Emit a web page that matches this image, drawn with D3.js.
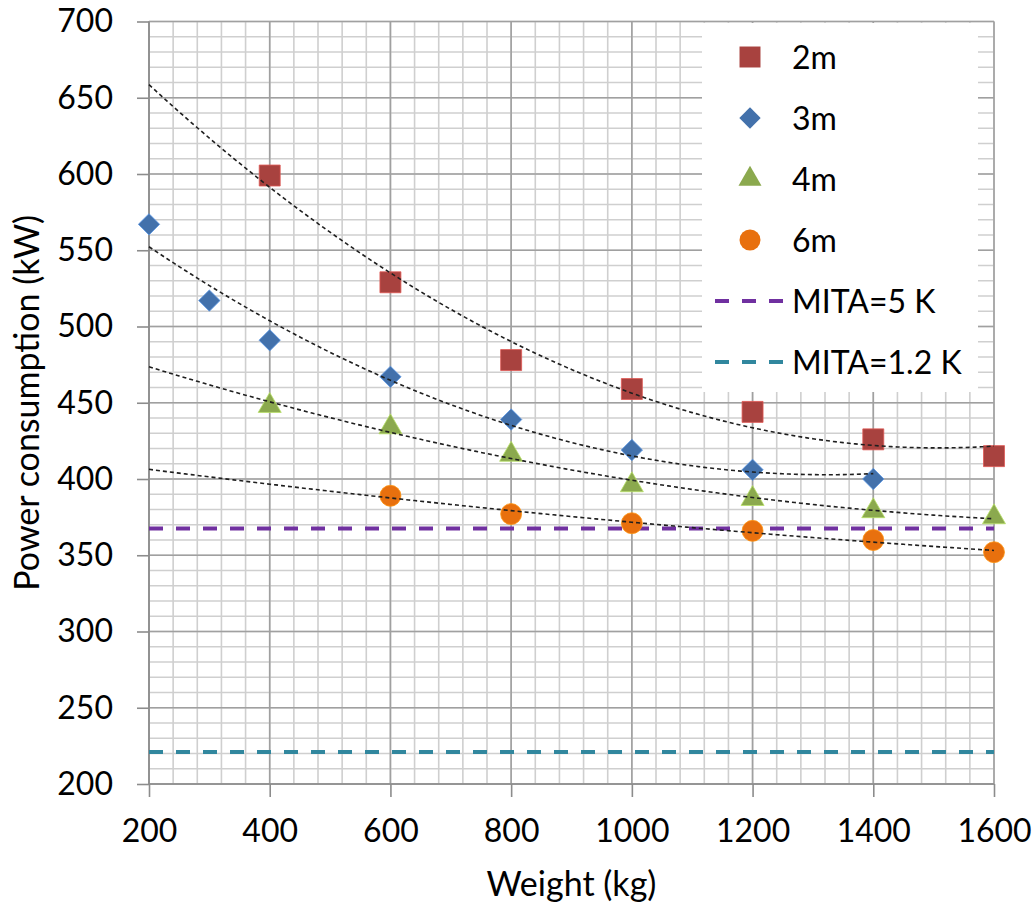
<!DOCTYPE html>
<html>
<head>
<meta charset="utf-8">
<script src="https://cdn.jsdelivr.net/npm/d3@7"></script>
<style>
  html, body { margin: 0; padding: 0; background: #fff; }
  text { font-family: Lato, "Open Sans", sans-serif; fill: #000; }
</style>
</head>
<body>
<svg id="chart" width="1034" height="906"></svg>
<script>
// ---------- data ----------
const xTicks = [200, 400, 600, 800, 1000, 1200, 1400, 1600];
const yTicks = [200, 250, 300, 350, 400, 450, 500, 550, 600, 650, 700];

const x2m = [400, 600, 800, 1000, 1200, 1400, 1600];
const y2m = [599, 529, 478, 459, 444, 426, 415];

const x3m = [200, 300, 400, 600, 800, 1000, 1200, 1400];
const y3m = [567, 517, 491, 467, 439, 419, 406, 400];

const x4m = [400, 600, 800, 1000, 1200, 1400, 1600];
const y4m = [448, 434, 416, 396, 387, 379, 375];

const x6m = [600, 800, 1000, 1200, 1400, 1600];
const y6m = [389, 377, 371, 366, 360, 352];

const mita5 = 367.5;   // MITA=5 K
const mita12 = 221;    // MITA=1.2 K

const seriesNames = ["2m", "3m", "4m", "6m"];
const lineNames = ["MITA=5 K", "MITA=1.2 K"];

// ---------- layout ----------
const svg = d3.select("#chart");
const W = 1034, H = 906;
svg.append("rect").attr("width", W).attr("height", H).attr("fill", "#fff");

const x = d3.scaleLinear().domain([200, 1600]).range([149, 994]);
const y = d3.scaleLinear().domain([200, 700]).range([784, 21.5]);

const colors = { "2m": "#A8423F", "3m": "#4371AB", "4m": "#8BA94E", "6m": "#E8700E" };
const lineColors = { "MITA=5 K": "#7030A0", "MITA=1.2 K": "#31879E" };

const series = [
  { name: "2m", xs: x2m, ys: y2m, shape: d3.symbolSquare, size: 440 },
  { name: "3m", xs: x3m, ys: y3m, shape: d3.symbolDiamond2 || d3.symbolDiamond, size: 290 },
  { name: "4m", xs: x4m, ys: y4m, shape: d3.symbolTriangle, size: 230 },
  { name: "6m", xs: x6m, ys: y6m, shape: d3.symbolCircle, size: 345 }
];

// ---------- grid ----------
const g = svg.append("g");
const minorX = d3.range(200, 1600.1, 40);
const minorY = d3.range(200, 700.1, 10);
g.selectAll(".mx").data(minorX).enter().append("line")
  .attr("x1", d => x(d)).attr("x2", d => x(d))
  .attr("y1", y(700)).attr("y2", y(200))
  .attr("stroke", "#cfcfcf").attr("stroke-width", 1.6);
g.selectAll(".my").data(minorY).enter().append("line")
  .attr("x1", x(200)).attr("x2", x(1600))
  .attr("y1", d => y(d)).attr("y2", d => y(d))
  .attr("stroke", "#cfcfcf").attr("stroke-width", 1.6);
g.selectAll(".Mx").data(xTicks).enter().append("line")
  .attr("x1", d => x(d)).attr("x2", d => x(d))
  .attr("y1", y(700)).attr("y2", y(200))
  .attr("stroke", "#a0a0a0").attr("stroke-width", 1.6);
g.selectAll(".My").data(yTicks).enter().append("line")
  .attr("x1", x(200)).attr("x2", x(1600))
  .attr("y1", d => y(d)).attr("y2", d => y(d))
  .attr("stroke", "#a0a0a0").attr("stroke-width", 1.6);

// ---------- axes ----------
const xAxis = d3.axisBottom(x).tickValues(xTicks).tickSize(13).tickPadding(22).tickFormat(d3.format("d"));
const yAxis = d3.axisLeft(y).tickValues(yTicks).tickSize(12).tickPadding(24).tickFormat(d3.format("d"));

const gx = svg.append("g").attr("transform", `translate(0,${y(200)})`).call(xAxis);
const gy = svg.append("g").attr("transform", `translate(${x(200)},0)`).call(yAxis);
[gx, gy].forEach(a => {
  a.select(".domain").attr("stroke", "#8c8c8c").attr("stroke-width", 1.6);
  a.selectAll(".tick line").attr("stroke", "#8c8c8c").attr("stroke-width", 1.6);
  a.selectAll(".tick text").style("font-family", "Lato, 'Open Sans', sans-serif")
    .style("font-size", "32px").attr("fill", "#000");
});
gx.select(".domain").attr("d", `M${x(200)},0H${x(1600)}`);
gy.select(".domain").attr("d", `M0,${y(200)}V${y(700)}`);

// axis titles
svg.append("text").attr("x", (x(200) + x(1600)) / 2).attr("y", 896)
  .attr("text-anchor", "middle").style("font-size", "34px").text("Weight (kg)");
svg.append("text").attr("transform", `translate(39,${(y(200) + y(700)) / 2}) rotate(-90)`)
  .attr("text-anchor", "middle").style("font-size", "34px").text("Power consumption (kW)");

// ---------- horizontal MITA lines ----------
const hLines = [
  { name: "MITA=5 K", v: mita5 },
  { name: "MITA=1.2 K", v: mita12 }
];
svg.selectAll(".hl").data(hLines).enter().append("line")
  .attr("x1", x(200)).attr("x2", x(1600))
  .attr("y1", d => y(d.v)).attr("y2", d => y(d.v))
  .attr("stroke", d => lineColors[d.name]).attr("stroke-width", 4)
  .attr("stroke-dasharray", "14,13");

// ---------- markers ----------
series.forEach(s => {
  const pts = s.xs.map((xv, i) => [xv, s.ys[i]]);
  svg.append("g").selectAll("path").data(pts).enter().append("path")
    .attr("d", d3.symbol().type(s.shape).size(s.size))
    .attr("transform", d => `translate(${x(d[0])},${y(d[1])})`)
    .attr("fill", colors[s.name])
    .attr("stroke", d3.color(colors[s.name]).brighter(0.8)).attr("stroke-width", 0.8);
});

// ---------- quadratic trendlines (least squares on each series) ----------
function quadFit(xs, ys) {
  let S = [0, 0, 0, 0, 0], T = [0, 0, 0];
  xs.forEach((xv, i) => {
    const t = xv / 100;
    for (let k = 0; k < 5; k++) S[k] += Math.pow(t, k);
    for (let k = 0; k < 3; k++) T[k] += Math.pow(t, k) * ys[i];
  });
  const A = [[S[0], S[1], S[2], T[0]], [S[1], S[2], S[3], T[1]], [S[2], S[3], S[4], T[2]]];
  for (let i = 0; i < 3; i++) {
    let p = i;
    for (let r = i + 1; r < 3; r++) if (Math.abs(A[r][i]) > Math.abs(A[p][i])) p = r;
    [A[i], A[p]] = [A[p], A[i]];
    for (let r = 0; r < 3; r++) if (r !== i) {
      const f = A[r][i] / A[i][i];
      for (let c = i; c < 4; c++) A[r][c] -= f * A[i][c];
    }
  }
  const c = A.map((row, i) => row[3] / row[i]);
  return xv => { const t = xv / 100; return c[0] + c[1] * t + c[2] * t * t; };
}
const trendLine = d3.line().x(d => x(d[0])).y(d => y(d[1]));
series.forEach(s => {
  const f = quadFit(s.xs, s.ys);
  const xmax = d3.max(s.xs);
  const pts = d3.range(200, xmax + 0.1, 10).map(xv => [xv, f(xv)]);
  svg.append("path").datum(pts).attr("d", trendLine)
    .attr("fill", "none").attr("stroke", "#1f1f1f").attr("stroke-width", 1.6)
    .attr("stroke-dasharray", "4,3");
});

// ---------- legend ----------
const lg = svg.append("g");
lg.append("rect").attr("x", 702).attr("y", 23).attr("width", 276).attr("height", 369).attr("fill", "#fff");
const rowY = d3.range(6).map(i => 57 + i * 61);
series.forEach((s, i) => {
  lg.append("path").attr("d", d3.symbol().type(s.shape).size(s.size))
    .attr("transform", `translate(750,${rowY[i]})`).attr("fill", colors[s.name]);
  lg.append("text").attr("x", 792).attr("y", rowY[i]).attr("dy", "0.36em")
    .style("font-size", "32px").text(s.name);
});
lineNames.forEach((n, j) => {
  const yy = rowY[4 + j];
  lg.append("line").attr("x1", 715).attr("x2", 783).attr("y1", yy).attr("y2", yy)
    .attr("stroke", lineColors[n]).attr("stroke-width", 4).attr("stroke-dasharray", "14,13");
  lg.append("text").attr("x", 792).attr("y", yy).attr("dy", "0.36em")
    .style("font-size", "32px").text(n);
});
</script>
</body>
</html>
